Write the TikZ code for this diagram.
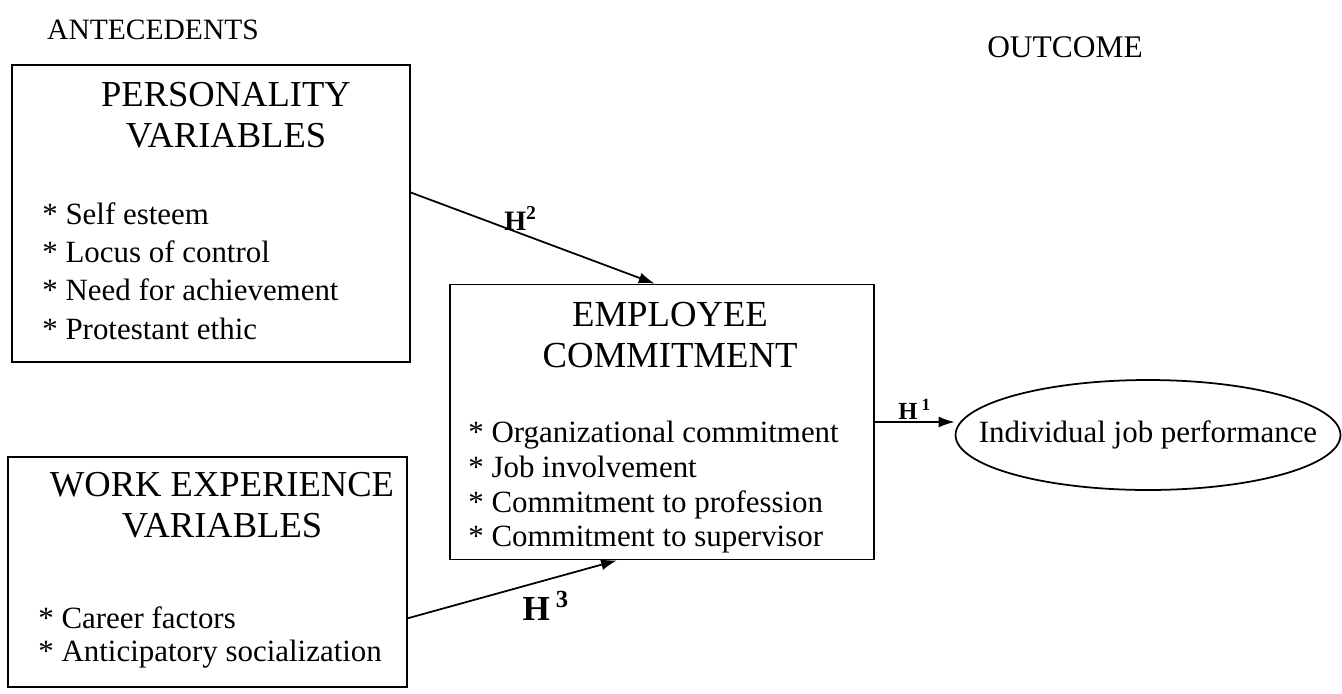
\documentclass[tikz,border=0pt]{standalone}
\usepackage{fontspec}
\setmainfont{Liberation Serif}
\usetikzlibrary{positioning,shapes.geometric,arrows.meta}

\begin{document}
\begin{tikzpicture}[x=0.02cm,y=-0.02cm,
    box/.style={draw, line width=1pt, inner sep=0pt},
    title/.style={align=center, inner sep=0pt, anchor=north, font=\fontsize{#1}{23.3}\selectfont},
    items/.style={align=left, inner sep=0pt, anchor=north west, font=\fontsize{17.6}{#1}\selectfont},
    head/.style={inner sep=0pt, font=\fontsize{#1}{20}\selectfont},
    hyp/.style={inner sep=1pt, font=\bfseries\fontsize{#1}{#1}\selectfont},
    link/.style={line width=1pt, -{Latex[length=0.32cm,width=0.22cm]}}]
                \useasboundingbox (0,0) rectangle (1342,693);
                \node[head=16.8] (ante) at (153,30) {ANTECEDENTS};
                \node[head=17.9] (outc) at (1065,47) {OUTCOME};
                % boxes
                \node[box, minimum width=7.96cm, minimum height=5.94cm] (pers) at (211,213.5) {};
                \node[box, minimum width=7.98cm, minimum height=4.6cm] (work) at (207.5,572) {};
                \node[box, minimum width=8.48cm, minimum height=5.5cm] (emp) at (662,422) {};
                \node[box, ellipse, inner xsep=-0.7cm, minimum width=7.7cm, minimum height=2.2cm, font=\fontsize{17.6}{20}\selectfont] (perf) at (1148,435) {Individual job performance};
                % texts in the boxes
                \node[title=20.8] (perstitle) at (226,82) {PERSONALITY\\VARIABLES};
                \node[items=21.8] (persitems) at (42,202) {* Self esteem\\* Locus of control\\* Need for achievement\\* Protestant ethic};
                \node[title=20.8] (worktitle) at (222,472) {WORK EXPERIENCE\\VARIABLES};
                \node[items=19] (workitems) at (38,606) {* Career factors\\* Anticipatory socialization};
                \node[title=20.9] (emptitle) at (670,302) {EMPLOYEE\\COMMITMENT};
                \node[items=19.7] (empitems) at (468,421) {* Organizational commitment\\* Job involvement\\* Commitment to profession\\* Commitment to supervisor};
                % hypotheses
                \draw[link] (pers.6.7) -- node[hyp=16, pos=0.45, above] {H\textsuperscript{2}} (emp.93);
                \draw[link] (work.-13.3) -- node[hyp=20, pos=0.66, below=5pt] {H\,\textsuperscript{3}} (emp.-108.4);
                \draw[link] (emp.east) -- node[hyp=14, above] {H\,\textsuperscript{1}} (emp.east -| perf.west);
\end{tikzpicture}
\end{document}
